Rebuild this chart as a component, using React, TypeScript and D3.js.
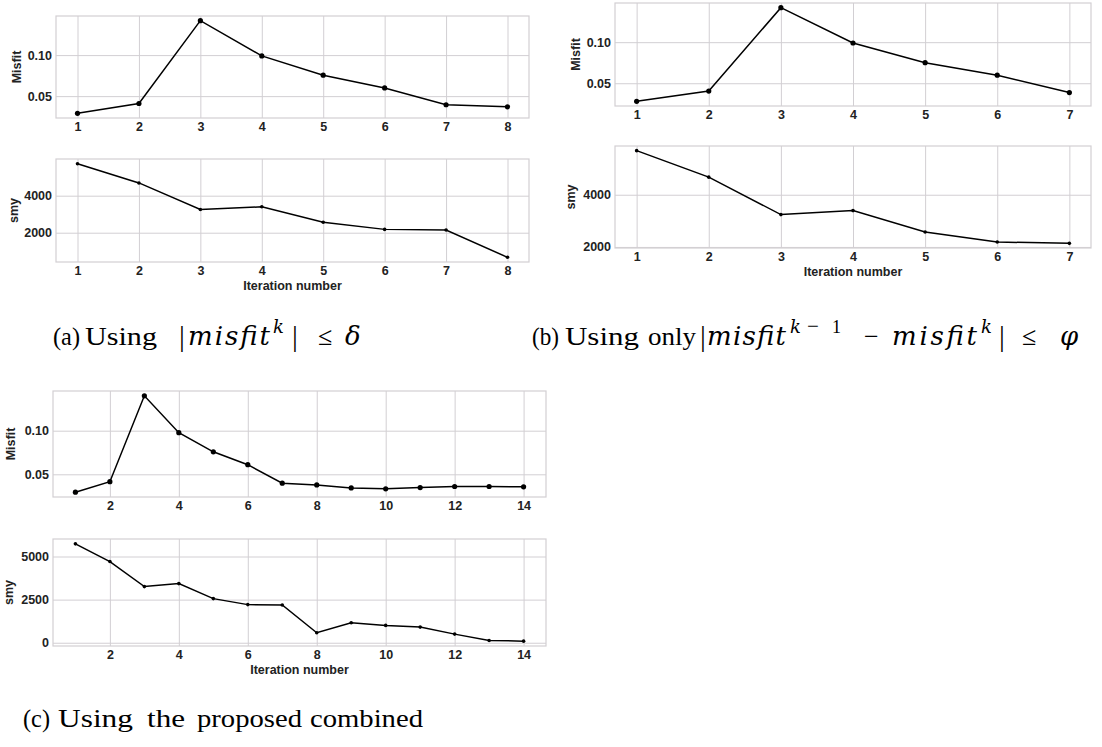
import React, { useRef, useEffect } from "react";
import * as d3 from "d3";

// (a) stop on |misfit| <= delta
const iterA = [1, 2, 3, 4, 5, 6, 7, 8];
const misfitA = [0.029, 0.041, 0.142, 0.099, 0.0755, 0.06, 0.0395, 0.037];
const smyA = [5730, 4690, 3255, 3400, 2565, 2180, 2145, 670];

// (b) stop on |misfit(k-1) - misfit(k)| <= phi
const iterB = [1, 2, 3, 4, 5, 6, 7];
const misfitB = [0.028, 0.0405, 0.142, 0.099, 0.075, 0.0598, 0.0387];
const smyB = [5690, 4675, 3240, 3392, 2570, 2190, 2137];

// (c) combined criterion
const iterC = [1, 2, 3, 4, 5, 6, 7, 8, 9, 10, 11, 12, 13, 14];
const misfitC = [0.0295, 0.0415, 0.14, 0.0977, 0.0758, 0.061, 0.0398, 0.0378, 0.0344, 0.0333, 0.0348, 0.036, 0.036, 0.0356];
const smyC = [5733, 4709, 3256, 3430, 2558, 2210, 2190, 581, 1163, 1006, 907, 500, 134, 93];

const ticksA = [1, 2, 3, 4, 5, 6, 7, 8];
const ticksB = [1, 2, 3, 4, 5, 6, 7];
const ticksC = [2, 4, 6, 8, 10, 12, 14];
const misfitTicks = [0.05, 0.1];
const smyTicksAB = [2000, 4000];
const smyTicksC = [0, 2500, 5000];

const GRID = "#d2cfd3";
const TXT = "#222";
const SANS = "'Liberation Sans', Arial, sans-serif";
const SERIF = "'Liberation Serif', 'Times New Roman', serif";
const MATH = "'DejaVu Serif', serif";

// plot boxes: left, right, top, bottom and where the y label sits
const panels = [
  { xs: iterA, ys: misfitA, xt: ticksA, yt: misfitTicks, fmt: ".2f", label: "Misfit", box: [56, 529, 16, 118], lx: 16.5, r: 2.6 },
  { xs: iterA, ys: smyA, xt: ticksA, yt: smyTicksAB, fmt: "d", label: "smy", box: [56, 529, 159, 262], lx: 14, r: 1.8, xl: true },
  { xs: iterB, ys: misfitB, xt: ticksB, yt: misfitTicks, fmt: ".2f", label: "Misfit", box: [615, 1091, 3, 106], lx: 575.5, r: 2.6 },
  { xs: iterB, ys: smyB, xt: ticksB, yt: smyTicksAB, fmt: "d", label: "smy", box: [615, 1091, 146, 248], lx: 571, r: 1.8, xl: true },
  { xs: iterC, ys: misfitC, xt: ticksC, yt: misfitTicks, fmt: ".2f", label: "Misfit", box: [53, 546, 391, 497], lx: 11, r: 2.6 },
  { xs: iterC, ys: smyC, xt: ticksC, yt: smyTicksC, fmt: "d", label: "smy", box: [53, 546, 539, 646], lx: 9, r: 1.8, xl: true },
];

// caption pieces: text, start x, end x (fit width) or null, baseline, size, kind (r = roman, m = math italic)
const captions = [
  ["(a)", 53, 80, 345, 26, "r"],
  ["Using", 85, 157, 345, 26, "r"],
  ["|", 179, null, 346, 29, "r"],
  ["misfit", 188, 270, 345, 26, "m"],
  ["k", 273, null, 333, 18, "m"],
  ["|", 292, null, 346, 29, "r"],
  ["≤", 318, null, 345, 26, "r"],
  ["δ", 345, null, 345, 26, "m"],

  ["(b)", 532, 559, 345, 26, "r"],
  ["Using", 565, 639, 345, 26, "r"],
  ["only", 648, 696, 345, 26, "r"],
  ["|", 700, null, 346, 29, "r"],
  ["misfit", 707, 786, 345, 26, "m"],
  ["k", 790, null, 333, 18, "m"],
  ["−", 807, null, 333, 21, "r"],
  ["1", 832, null, 333, 18, "r"],
  ["−", 864, null, 345, 26, "r"],
  ["misfit", 892, 977, 345, 26, "m"],
  ["k", 981, null, 333, 18, "m"],
  ["|", 999, null, 346, 29, "r"],
  ["≤", 1022, null, 345, 26, "r"],
  ["φ", 1060, null, 345, 26, "m"],

  ["(c)", 23, 50, 727, 26, "r"],
  ["Using", 58, 133, 727, 26, "r"],
  ["the", 147, 185, 727, 26, "r"],
  ["proposed", 197, 302, 727, 26, "r"],
  ["combined", 310, 423, 727, 26, "r"],
];

function drawPanel(svg, p) {
  const [left, right, top, bottom] = p.box;
  const xmin = d3.min(p.xs), xmax = d3.max(p.xs);
  const xpad = 0.05 * (xmax - xmin);
  const x = d3.scaleLinear().domain([xmin - xpad, xmax + xpad]).range([left, right]);
  const [lo, hi] = d3.extent(p.ys);
  const ypad = 0.05 * (hi - lo);
  const y = d3.scaleLinear().domain([lo - ypad, hi + ypad]).range([bottom, top]);

  const g = svg.append("g");

  const font = (s) =>
    s.attr("fill", TXT)
      .style("font-family", SANS)
      .style("font-size", "12.5px")
      .style("font-weight", "bold");

  // x grid + tick labels
  const gx = g
    .append("g")
    .attr("transform", "translate(0," + bottom + ")")
    .call(d3.axisBottom(x).tickValues(p.xt).tickFormat(d3.format("d")).tickSize(-(bottom - top)).tickPadding(4));
  // y grid + tick labels
  const gy = g
    .append("g")
    .attr("transform", "translate(" + left + ",0)")
    .call(d3.axisLeft(y).tickValues(p.yt).tickFormat(d3.format(p.fmt)).tickSize(-(right - left)).tickPadding(4));

  [gx, gy].forEach((a) => {
    a.select(".domain").remove();
    a.selectAll("line").attr("stroke", GRID).attr("stroke-width", 1);
    a.selectAll("text").call(font);
  });

  g.append("rect")
    .attr("x", left)
    .attr("y", top)
    .attr("width", right - left)
    .attr("height", bottom - top)
    .attr("fill", "none")
    .attr("stroke", GRID)
    .attr("stroke-width", 1.2);

  const pts = p.xs.map((v, i) => [v, p.ys[i]]);
  g.append("path")
    .datum(pts)
    .attr("fill", "none")
    .attr("stroke", "#000")
    .attr("stroke-width", 1.5)
    .attr("d", d3.line().x((d) => x(d[0])).y((d) => y(d[1])));

  g.selectAll("circle")
    .data(pts)
    .join("circle")
    .attr("cx", (d) => x(d[0]))
    .attr("cy", (d) => y(d[1]))
    .attr("r", p.r)
    .attr("fill", "#000");

  g.append("text")
    .attr("transform", "translate(" + p.lx + "," + (top + bottom) / 2 + ") rotate(-90)")
    .attr("text-anchor", "middle")
    .attr("dy", "0.35em")
    .text(p.label)
    .call(font);

  if (p.xl) {
    g.append("text")
      .attr("x", (left + right) / 2)
      .attr("y", bottom + 28)
      .attr("text-anchor", "middle")
      .text("Iteration number")
      .call(font);
  }
}

export default function App() {
  const svgRef = useRef(null);

  useEffect(() => {
    const svg = d3.select(svgRef.current);
    svg.selectAll("*").remove();

    panels.forEach((p) => drawPanel(svg, p));

    // sub-figure captions
    captions.forEach(([t, x0, x1, yb, size, kind]) => {
      const el = svg
        .append("text")
        .attr("x", x0)
        .attr("y", yb)
        .style("font-family", kind === "m" ? MATH : SERIF)
        .style("font-size", size + "px")
        .style("font-style", kind === "m" ? "italic" : "normal")
        .attr("fill", "#000")
        .text(t);
      if (x1 != null) {
        el.attr("textLength", x1 - x0).attr("lengthAdjust", kind === "m" ? "spacing" : "spacingAndGlyphs");
      }
    });
  }, []);

  return (
    <svg
      ref={svgRef}
      width={1102}
      height={747}
      style={{ position: "absolute", left: 0, top: 0, background: "#fff" }}
    />
  );
}
